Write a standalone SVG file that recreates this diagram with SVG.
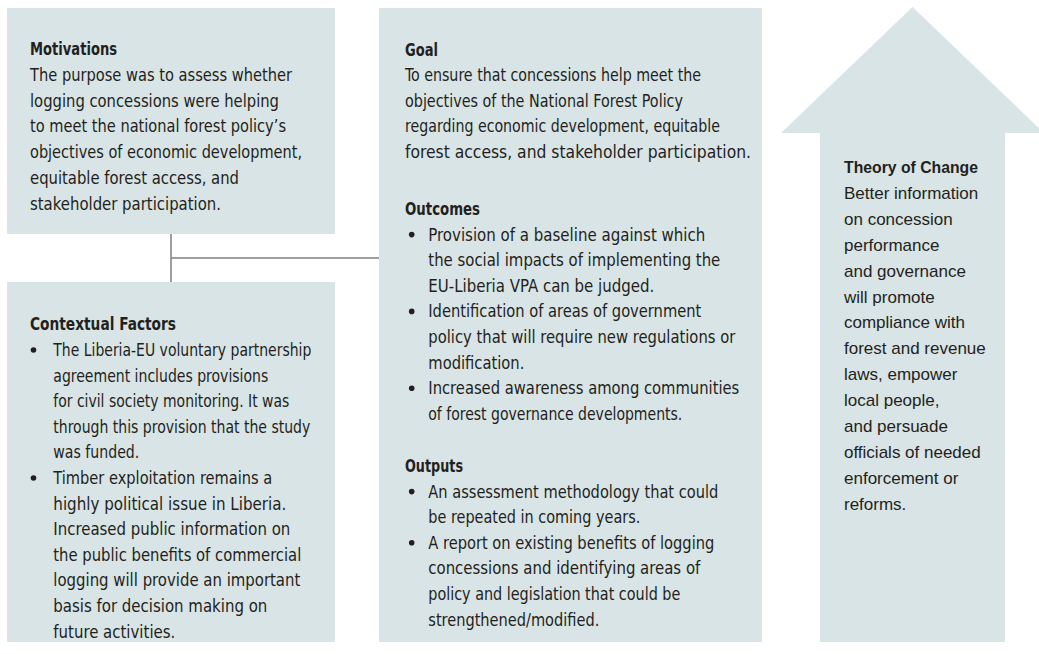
<svg xmlns="http://www.w3.org/2000/svg" width="1039" height="654" viewBox="0 0 1039 654">
<style>
.bg{fill:#ffffff}
.box{fill:#d9e4e6}
.t{font-family:'Liberation Sans Narrow','DejaVu Sans Condensed','Liberation Sans',Arial,sans-serif;font-size:17.5px;fill:#231f20}
.b{font-weight:bold}
.th{font-family:'Liberation Sans',Arial,sans-serif;font-size:17px;fill:#231f20}
.dot{fill:#231f20}
.con{stroke:#7f7f7f;stroke-width:1.5;fill:none}
</style>
<rect class="bg" x="0" y="0" width="1039" height="654"/>
<g id="connectors">
<path class="con" d="M171,234 V282 M171,258 H379"/>
</g>
<g id="motivations">
<rect class="box" x="7" y="8" width="328" height="226"/>
<text class="t b" x="30" y="55" textLength="87" lengthAdjust="spacingAndGlyphs">Motivations</text>
<text class="t" x="30" y="80.8" textLength="262" lengthAdjust="spacingAndGlyphs">The purpose was to assess whether</text>
<text class="t" x="30" y="106.6" textLength="249" lengthAdjust="spacingAndGlyphs">logging concessions were helping</text>
<text class="t" x="30" y="132.4" textLength="256" lengthAdjust="spacingAndGlyphs">to meet the national forest policy’s</text>
<text class="t" x="30" y="158.2" textLength="272" lengthAdjust="spacingAndGlyphs">objectives of economic development,</text>
<text class="t" x="30" y="184" textLength="209" lengthAdjust="spacingAndGlyphs">equitable forest access, and</text>
<text class="t" x="30" y="209.8" textLength="191" lengthAdjust="spacingAndGlyphs">stakeholder participation.</text>
</g>
<g id="contextual-factors">
<rect class="box" x="7" y="282" width="328" height="360"/>
<text class="t b" x="30" y="330" textLength="146" lengthAdjust="spacingAndGlyphs">Contextual Factors</text>
<circle class="dot" cx="33.5" cy="350" r="2.8"/>
<text class="t" x="53.3" y="356" textLength="258" lengthAdjust="spacingAndGlyphs">The Liberia-EU voluntary partnership</text>
<text class="t" x="53.3" y="381.6" textLength="215" lengthAdjust="spacingAndGlyphs">agreement includes provisions</text>
<text class="t" x="53.3" y="407.2" textLength="236" lengthAdjust="spacingAndGlyphs">for civil society monitoring. It was</text>
<text class="t" x="53.3" y="432.8" textLength="257" lengthAdjust="spacingAndGlyphs">through this provision that the study</text>
<text class="t" x="53.3" y="458.4" textLength="86" lengthAdjust="spacingAndGlyphs">was funded.</text>
<circle class="dot" cx="33.5" cy="478" r="2.8"/>
<text class="t" x="53.3" y="484" textLength="219" lengthAdjust="spacingAndGlyphs">Timber exploitation remains a</text>
<text class="t" x="53.3" y="509.6" textLength="233" lengthAdjust="spacingAndGlyphs">highly political issue in Liberia.</text>
<text class="t" x="53.3" y="535.2" textLength="237" lengthAdjust="spacingAndGlyphs">Increased public information on</text>
<text class="t" x="53.3" y="560.8" textLength="248" lengthAdjust="spacingAndGlyphs">the public benefits of commercial</text>
<text class="t" x="53.3" y="586.4" textLength="247" lengthAdjust="spacingAndGlyphs">logging will provide an important</text>
<text class="t" x="53.3" y="612" textLength="214" lengthAdjust="spacingAndGlyphs">basis for decision making on</text>
<text class="t" x="53.3" y="637.6" textLength="122" lengthAdjust="spacingAndGlyphs">future activities.</text>
</g>
<g id="goal-outcomes-outputs">
<rect class="box" x="379" y="8" width="383" height="634"/>
<text class="t b" x="405" y="55.5" textLength="33" lengthAdjust="spacingAndGlyphs">Goal</text>
<text class="t" x="405" y="81.1" textLength="296" lengthAdjust="spacingAndGlyphs">To ensure that concessions help meet the</text>
<text class="t" x="405" y="106.7" textLength="278" lengthAdjust="spacingAndGlyphs">objectives of the National Forest Policy</text>
<text class="t" x="405" y="132.3" textLength="315" lengthAdjust="spacingAndGlyphs">regarding economic development, equitable</text>
<text class="t" x="405" y="157.9" textLength="346" lengthAdjust="spacingAndGlyphs">forest access, and stakeholder participation.</text>
<text class="t b" x="405" y="215" textLength="75" lengthAdjust="spacingAndGlyphs">Outcomes</text>
<circle class="dot" cx="411.7" cy="234.6" r="2.8"/>
<text class="t" x="428.3" y="240.6" textLength="277" lengthAdjust="spacingAndGlyphs">Provision of a baseline against which</text>
<text class="t" x="428.3" y="266.2" textLength="292" lengthAdjust="spacingAndGlyphs">the social impacts of implementing the</text>
<text class="t" x="428.3" y="291.8" textLength="226" lengthAdjust="spacingAndGlyphs">EU-Liberia VPA can be judged.</text>
<circle class="dot" cx="411.7" cy="311.4" r="2.8"/>
<text class="t" x="428.3" y="317.4" textLength="273" lengthAdjust="spacingAndGlyphs">Identification of areas of government</text>
<text class="t" x="428.3" y="343" textLength="307" lengthAdjust="spacingAndGlyphs">policy that will require new regulations or</text>
<text class="t" x="428.3" y="368.6" textLength="96" lengthAdjust="spacingAndGlyphs">modification.</text>
<circle class="dot" cx="411.7" cy="388.2" r="2.8"/>
<text class="t" x="428.3" y="394.2" textLength="311" lengthAdjust="spacingAndGlyphs">Increased awareness among communities</text>
<text class="t" x="428.3" y="419.8" textLength="254" lengthAdjust="spacingAndGlyphs">of forest governance developments.</text>
<text class="t b" x="405" y="472" textLength="58" lengthAdjust="spacingAndGlyphs">Outputs</text>
<circle class="dot" cx="411.7" cy="491.6" r="2.8"/>
<text class="t" x="428.3" y="497.6" textLength="290" lengthAdjust="spacingAndGlyphs">An assessment methodology that could</text>
<text class="t" x="428.3" y="523.2" textLength="212" lengthAdjust="spacingAndGlyphs">be repeated in coming years.</text>
<circle class="dot" cx="411.7" cy="542.8" r="2.8"/>
<text class="t" x="428.3" y="548.8" textLength="286" lengthAdjust="spacingAndGlyphs">A report on existing benefits of logging</text>
<text class="t" x="428.3" y="574.4" textLength="272" lengthAdjust="spacingAndGlyphs">concessions and identifying areas of</text>
<text class="t" x="428.3" y="600" textLength="252" lengthAdjust="spacingAndGlyphs">policy and legislation that could be</text>
<text class="t" x="428.3" y="625.6" textLength="171" lengthAdjust="spacingAndGlyphs">strengthened/modified.</text>
</g>
<g id="theory-of-change">
<polygon class="box" points="912.5,7 1044,133 1005,133 1005,642 820,642 820,133 781,133"/>
<text class="th b" x="844" y="173" textLength="134" lengthAdjust="spacingAndGlyphs">Theory of Change</text>
<text class="th" x="844" y="198.9">Better information</text>
<text class="th" x="844" y="224.8">on concession</text>
<text class="th" x="844" y="250.7">performance</text>
<text class="th" x="844" y="276.6">and governance</text>
<text class="th" x="844" y="302.5">will promote</text>
<text class="th" x="844" y="328.4">compliance with</text>
<text class="th" x="844" y="354.3">forest and revenue</text>
<text class="th" x="844" y="380.2">laws, empower</text>
<text class="th" x="844" y="406.1">local people,</text>
<text class="th" x="844" y="432">and persuade</text>
<text class="th" x="844" y="457.9">officials of needed</text>
<text class="th" x="844" y="483.8">enforcement or</text>
<text class="th" x="844" y="509.7">reforms.</text>
</g>
</svg>
